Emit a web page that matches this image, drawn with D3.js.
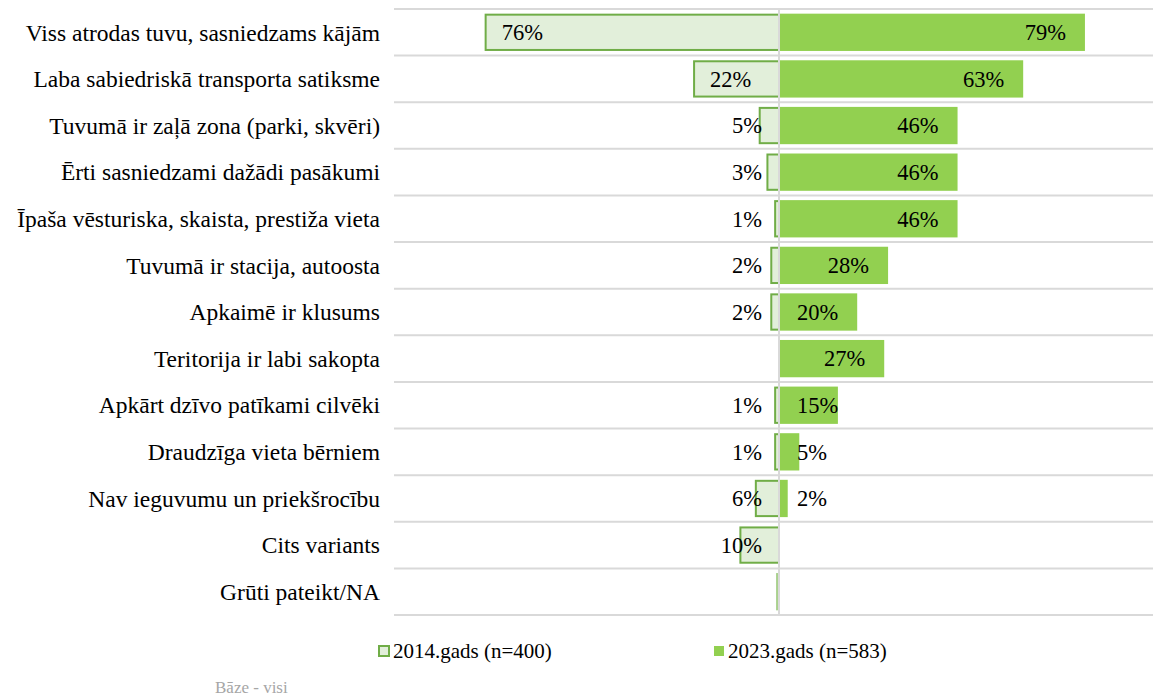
<!DOCTYPE html>
<html lang="lv">
<head>
<meta charset="UTF-8">
<title>Priekšrocības</title>
<script src="https://d3js.org/d3.v7.min.js"></script>
<style>
  body { margin: 0; background: #fff; }
</style>
</head>
<body>
<script>
var width = 1153, height = 698;
var font = "'Liberation Serif', 'Times New Roman', serif";

var categories = [
  "Viss atrodas tuvu, sasniedzams kājām",
  "Laba sabiedriskā transporta satiksme",
  "Tuvumā ir zaļā zona (parki, skvēri)",
  "Ērti sasniedzami dažādi pasākumi",
  "Īpaša vēsturiska, skaista, prestiža vieta",
  "Tuvumā ir stacija, autoosta",
  "Apkaimē ir klusums",
  "Teritorija ir labi sakopta",
  "Apkārt dzīvo patīkami cilvēki",
  "Draudzīga vieta bērniem",
  "Nav ieguvumu un priekšrocību",
  "Cits variants",
  "Grūti pateikt/NA"
];
var values2014 = [76, 22, 5, 3, 1, 2, 2, null, 1, 1, 6, 10, 0.5];
var values2023 = [79, 63, 46, 46, 46, 28, 20, 27, 15, 5, 2, null, null];
var seriesNames = ["2014.gads (n=400)", "2023.gads (n=583)"];

var svg = d3.select("body").append("svg")
  .attr("width", width)
  .attr("height", height)
  .style("font-family", font);

var x = d3.scaleLinear().domain([-100, 100]).range([393, 1165]);
var y = d3.scaleBand().domain(categories).range([9, 615])
  .paddingInner(0.2).paddingOuter(0.1);
var cx = x(0);

// row separators
var rows = d3.range(categories.length + 1);
svg.selectAll("line.grid").data(rows).enter().append("line")
  .attr("class", "grid")
  .attr("x1", 394).attr("x2", width)
  .attr("y1", function(i) { return 9 + i * y.step(); })
  .attr("y2", function(i) { return 9 + i * y.step(); })
  .style("stroke", "#d9d9d9").style("stroke-width", 2);

// category labels
svg.selectAll("text.cat").data(categories).enter().append("text")
  .attr("class", "cat")
  .attr("x", 380)
  .attr("y", function(d) { return y(d) + y.bandwidth() / 2; })
  .attr("dy", "0.35em")
  .attr("text-anchor", "end")
  .style("font-size", "23.5px")
  .style("fill", "#000")
  .text(function(d) { return d; });

var d14 = categories.map(function(c, i) { return { cat: c, v: values2014[i] }; })
  .filter(function(d) { return d.v != null; });
var d23 = categories.map(function(c, i) { return { cat: c, v: values2023[i] }; })
  .filter(function(d) { return d.v != null; });

svg.selectAll("rect.b14").data(d14).enter().append("rect")
  .attr("class", "b14")
  .attr("x", function(d) { return x(-d.v); })
  .attr("y", function(d) { return y(d.cat) + 1; })
  .attr("width", function(d) { return cx - x(-d.v); })
  .attr("height", y.bandwidth() - 2)
  .style("fill", "#e2efda")
  .style("stroke", function(d) { return d.v < 1 ? "#a9d18e" : "#70ad47"; })
  .style("stroke-width", 2);

svg.selectAll("rect.b23").data(d23).enter().append("rect")
  .attr("class", "b23")
  .attr("x", cx + 1)
  .attr("y", function(d) { return y(d.cat); })
  .attr("width", function(d) { return x(d.v) - cx; })
  .attr("height", y.bandwidth())
  .style("fill", "#92d050");

// center line
svg.append("line")
  .attr("x1", cx).attr("x2", cx)
  .attr("y1", 9).attr("y2", 615)
  .style("stroke", "#d9d9d9").style("stroke-width", 2);

// labels 2014
svg.selectAll("text.l14").data(d14.filter(function(d) { return d.v >= 1; })).enter().append("text")
  .attr("class", "l14")
  .attr("y", function(d) { return y(d.cat) + y.bandwidth() / 2; })
  .attr("dy", "0.35em")
  .style("font-size", "22.5px")
  .text(function(d) { return d.v + "%"; })
  .attr("x", function(d) {
    var w = this.getComputedTextLength();
    return Math.min(x(-d.v) + 16, cx - 17 - w);
  });

// labels 2023
svg.selectAll("text.l23").data(d23).enter().append("text")
  .attr("class", "l23")
  .attr("y", function(d) { return y(d.cat) + y.bandwidth() / 2; })
  .attr("dy", "0.35em")
  .attr("text-anchor", "end")
  .style("font-size", "22.5px")
  .text(function(d) { return d.v + "%"; })
  .attr("x", function(d) {
    var w = this.getComputedTextLength();
    return Math.max(x(d.v) - 18, cx + 18 + w);
  });

// legend
var legend = [
  { name: seriesNames[0], x: 378, fill: "#e2efda", stroke: "#70ad47" },
  { name: seriesNames[1], x: 713, fill: "#92d050", stroke: "none" }
];
var lg = svg.selectAll("g.leg").data(legend).enter().append("g")
  .attr("class", "leg")
  .attr("transform", function(d) { return "translate(" + d.x + ",651)"; });
lg.append("rect")
  .attr("x", 1).attr("y", -5).attr("width", 10).attr("height", 10)
  .style("fill", function(d) { return d.fill; })
  .style("stroke", function(d) { return d.stroke; })
  .style("stroke-width", 2);
lg.append("text")
  .attr("x", 15).attr("dy", "0.35em")
  .style("font-size", "21px")
  .text(function(d) { return d.name; });

svg.append("text")
  .attr("x", 215).attr("y", 693)
  .style("font-size", "17px")
  .style("fill", "#a6a6a6")
  .text("Bāze - visi");
</script>
</body>
</html>
